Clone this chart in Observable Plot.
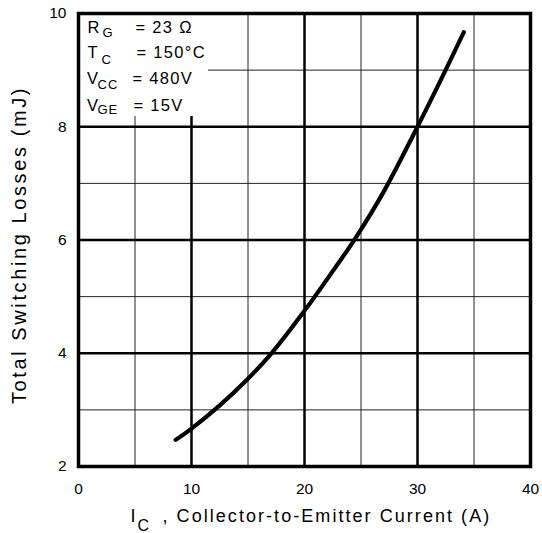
<!DOCTYPE html>
<html>
<head>
<meta charset="utf-8">
<script src="https://cdn.jsdelivr.net/npm/d3@7"></script>
<script src="https://cdn.jsdelivr.net/npm/@observablehq/plot@0.6"></script>
<style>
  html, body { margin: 0; padding: 0; background: #fff; }
  svg { font-family: "Liberation Sans", Arial, sans-serif; }
</style>
</head>
<body>
<div id="chart"></div>
<script>
// Data
const current = [8.6, 10, 12.5, 15, 17, 20, 22.5, 24.5, 27, 30, 32, 34.1];
const losses  = [2.47, 2.67, 3.08, 3.55, 3.98, 4.75, 5.45, 6.03, 6.85, 8.0, 8.8, 9.67];
const xTicks = [0, 10, 20, 30, 40];
const yTicks = [2, 4, 6, 8, 10];
const xMajor = [10, 20, 30];
const xMinor = [5, 15, 25, 35];
const yMajor = [4, 6, 8];
const yMinor = [3, 5, 7, 9];

const curve = current.map((c, i) => ({c, e: losses[i]}));
const font = "Liberation Sans, Arial, sans-serif";

const T = (s, o) => Plot.text([s], {textAnchor: "start", lineAnchor: "bottom", fill: "#000", ...o});

const plot = Plot.plot({
  width: 542,
  height: 533,
  marginLeft: 78,
  marginRight: 12,
  marginTop: 13,
  marginBottom: 67,
  style: {fontFamily: font, background: "#fff", color: "#000"},
  x: {domain: [0, 40]},
  y: {domain: [2, 10]},
  marks: [
    Plot.ruleX(xMinor, {stroke: "#222", strokeWidth: 1}),
    Plot.ruleY(yMinor, {stroke: "#222", strokeWidth: 1}),
    Plot.ruleX(xMajor, {stroke: "#000", strokeWidth: 2.5}),
    Plot.ruleY(yMajor, {stroke: "#000", strokeWidth: 2.5}),
    // white panel behind the condition text
    Plot.rect([{x1: 0, x2: 11.5, y1: 8.18, y2: 10}], {x1: "x1", x2: "x2", y1: "y1", y2: "y2", fill: "#fff"}),
    Plot.line(curve, {x: "c", y: "e", curve: "catmull-rom", stroke: "#000", strokeWidth: 4.2}),
    Plot.frame({stroke: "#000", strokeWidth: 3.5}),
    Plot.axisX({ticks: xTicks, tickSize: 0, tickPadding: 16, fontSize: 15.5, label: null}),
    Plot.axisY({ticks: yTicks, tickSize: 0, tickPadding: 12, fontSize: 15.5, label: null}),
    // condition annotations
    T("R", {frameAnchor: "top-left", dx: 9, dy: 19, fontSize: 16.5}),
    T("G", {frameAnchor: "top-left", dx: 24, dy: 23, fontSize: 13}),
    T("= 23 Ω", {frameAnchor: "top-left", dx: 57, dy: 19, fontSize: 16.5}),
    T("T", {frameAnchor: "top-left", dx: 9, dy: 44, fontSize: 16.5}),
    T("C", {frameAnchor: "top-left", dx: 23, dy: 50, fontSize: 13}),
    T("= 150°C", {frameAnchor: "top-left", dx: 58, dy: 44, fontSize: 16.5}),
    T("V", {frameAnchor: "top-left", dx: 8.5, dy: 70, fontSize: 16.5}),
    T("CC", {frameAnchor: "top-left", dx: 19, dy: 75, fontSize: 13}),
    T("= 480V", {frameAnchor: "top-left", dx: 54, dy: 70, fontSize: 16.5}),
    T("V", {frameAnchor: "top-left", dx: 8.5, dy: 97, fontSize: 16.5}),
    T("GE", {frameAnchor: "top-left", dx: 19, dy: 100, fontSize: 13}),
    T("= 15V", {frameAnchor: "top-left", dx: 55, dy: 97, fontSize: 16.5}),
    // x-axis title
    T("I", {frameAnchor: "bottom-left", dx: 52, dy: 55, fontSize: 18}),
    T("C", {frameAnchor: "bottom-left", dx: 59, dy: 64, fontSize: 16}),
    T(", Collector-to-Emitter Current (A)", {frameAnchor: "bottom-left", dx: 84, dy: 55, fontSize: 18}),
    // y-axis title
    Plot.text(["Total Switching Losses (mJ)"], {frameAnchor: "left", rotate: -90, textAnchor: "middle", lineAnchor: "middle", dx: -59, dy: 5, fontSize: 20, fill: "#000"})
  ]
});

// letter spacing to match the spaced-out lettering of the reference
d3.select(plot).selectAll("text").each(function() {
  const t = this.textContent;
  let ls = 0;
  if (t.startsWith("Total")) ls = 2.6;
  else if (t.startsWith(", Collector")) ls = 2.05;
  else if (t.startsWith("=")) ls = 1.3;
  else if (["CC", "GE"].includes(t)) ls = 1;
  if (ls) d3.select(this).attr("letter-spacing", ls);
});
document.getElementById("chart").appendChild(plot);
</script>
</body>
</html>
